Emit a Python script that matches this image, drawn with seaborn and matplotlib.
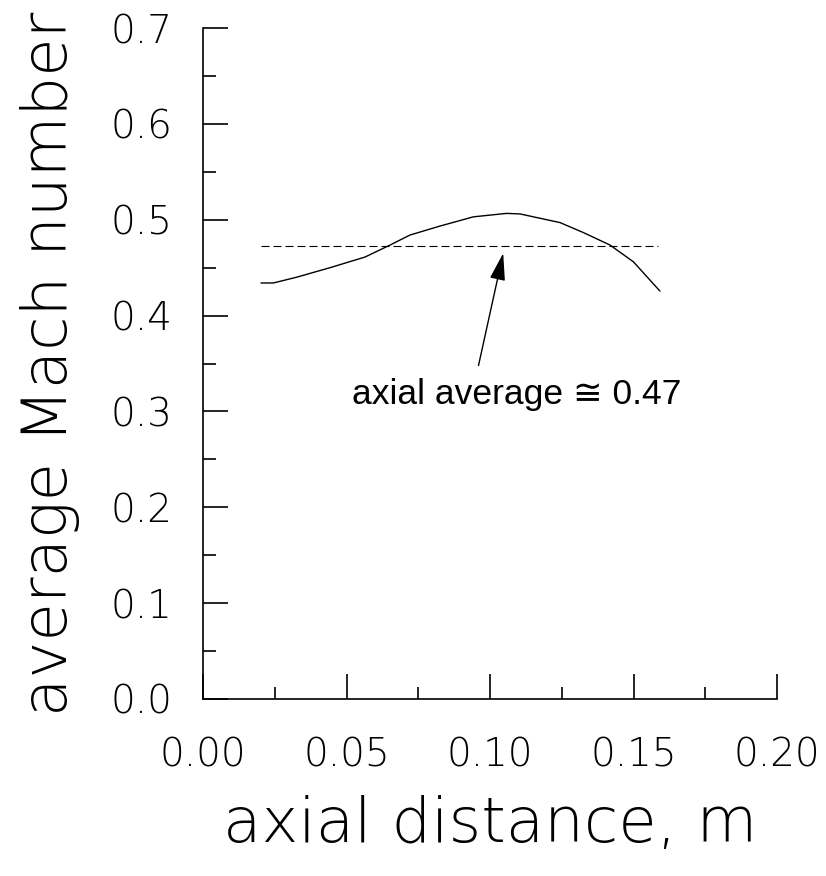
import matplotlib
matplotlib.use("Agg")
import matplotlib.pyplot as plt
import seaborn as sns
import numpy as np
import pandas as pd

# data
x_pos = [0.0202, 0.0245, 0.0326, 0.0443, 0.0564, 0.0652, 0.0721, 0.0826, 0.0942,
         0.1058, 0.1105, 0.1244, 0.1326, 0.1418, 0.1500, 0.1592]
mach = [0.434, 0.434, 0.440, 0.450, 0.461, 0.4736, 0.484, 0.4934, 0.503,
        0.5066, 0.506, 0.497, 0.4865, 0.4736, 0.456, 0.4256]
avg_value = 0.473
avg_range = [0.0202, 0.1585]
x_ticks = [0.00, 0.05, 0.10, 0.15, 0.20]
x_tick_labels = ["0.00", "0.05", "0.10", "0.15", "0.20"]
y_ticks = [0.0, 0.1, 0.2, 0.3, 0.4, 0.5, 0.6, 0.7]
y_tick_labels = ["0.0", "0.1", "0.2", "0.3", "0.4", "0.5", "0.6", "0.7"]
annot_text = "axial average \u2245 0.47"

sns.set_theme(style="ticks")
plt.rcParams['font.family'] = ['DejaVu Sans']
plt.rcParams['text.color'] = 'black'
plt.rcParams['axes.labelcolor'] = 'black'

fig = plt.figure(figsize=(8.26, 8.76), dpi=100)
ax = fig.add_axes([203/826, 1 - 699/876, (777-203)/826, (699-28)/876])

df = pd.DataFrame({"x": x_pos, "M": mach})
sns.lineplot(data=df, x="x", y="M", ax=ax, color="black", linewidth=1.0,
             sort=False, estimator=None)
ax.hlines(avg_value, avg_range[0], avg_range[1], colors="black",
          linewidth=0.8, linestyles=(0, (7.2, 3.6)))

ax.annotate("", xy=(0.1046, 0.465), xytext=(0.0960, 0.348),
            arrowprops=dict(arrowstyle="-|>,head_length=1.4,head_width=0.4",
                            color="black", lw=1.0, shrinkA=0, shrinkB=0))
ax.text(0.1093, 0.308, annot_text, ha="center", va="baseline", fontsize=25.5,
        family=['Liberation Sans', 'DejaVu Sans'], color="black")

ax.set_xlim(0, 0.2)
ax.set_ylim(0, 0.7)
ax.set_xticks(x_ticks)
ax.set_xticklabels(x_tick_labels)
ax.set_yticks(y_ticks)
ax.set_yticklabels(y_tick_labels)
ax.set_xticks(np.arange(0.025, 0.2, 0.05), minor=True)
ax.set_yticks(np.arange(0.05, 0.7, 0.1), minor=True)
ax.tick_params(axis="both", which="major", direction="in", length=18, width=1.2,
               labelsize=28, color="black", labelcolor="black")
ax.tick_params(axis="both", which="minor", direction="in", length=9, width=1.2,
               color="black")
ax.tick_params(axis="x", which="major", pad=27)
ax.tick_params(axis="y", which="major", pad=22)
for lab in ax.get_xticklabels() + ax.get_yticklabels():
    lab.set_fontweight(200)

sns.despine(ax=ax)
for s in ["left", "bottom"]:
    ax.spines[s].set_linewidth(1.2)
    ax.spines[s].set_color("black")

ax.set_xlabel("axial distance, m", fontsize=45, fontweight=200, labelpad=15)
ax.set_ylabel("average Mach number", fontsize=45, fontweight=200, labelpad=22)
ax.grid(False)

fig.savefig("out.png", dpi=100)
